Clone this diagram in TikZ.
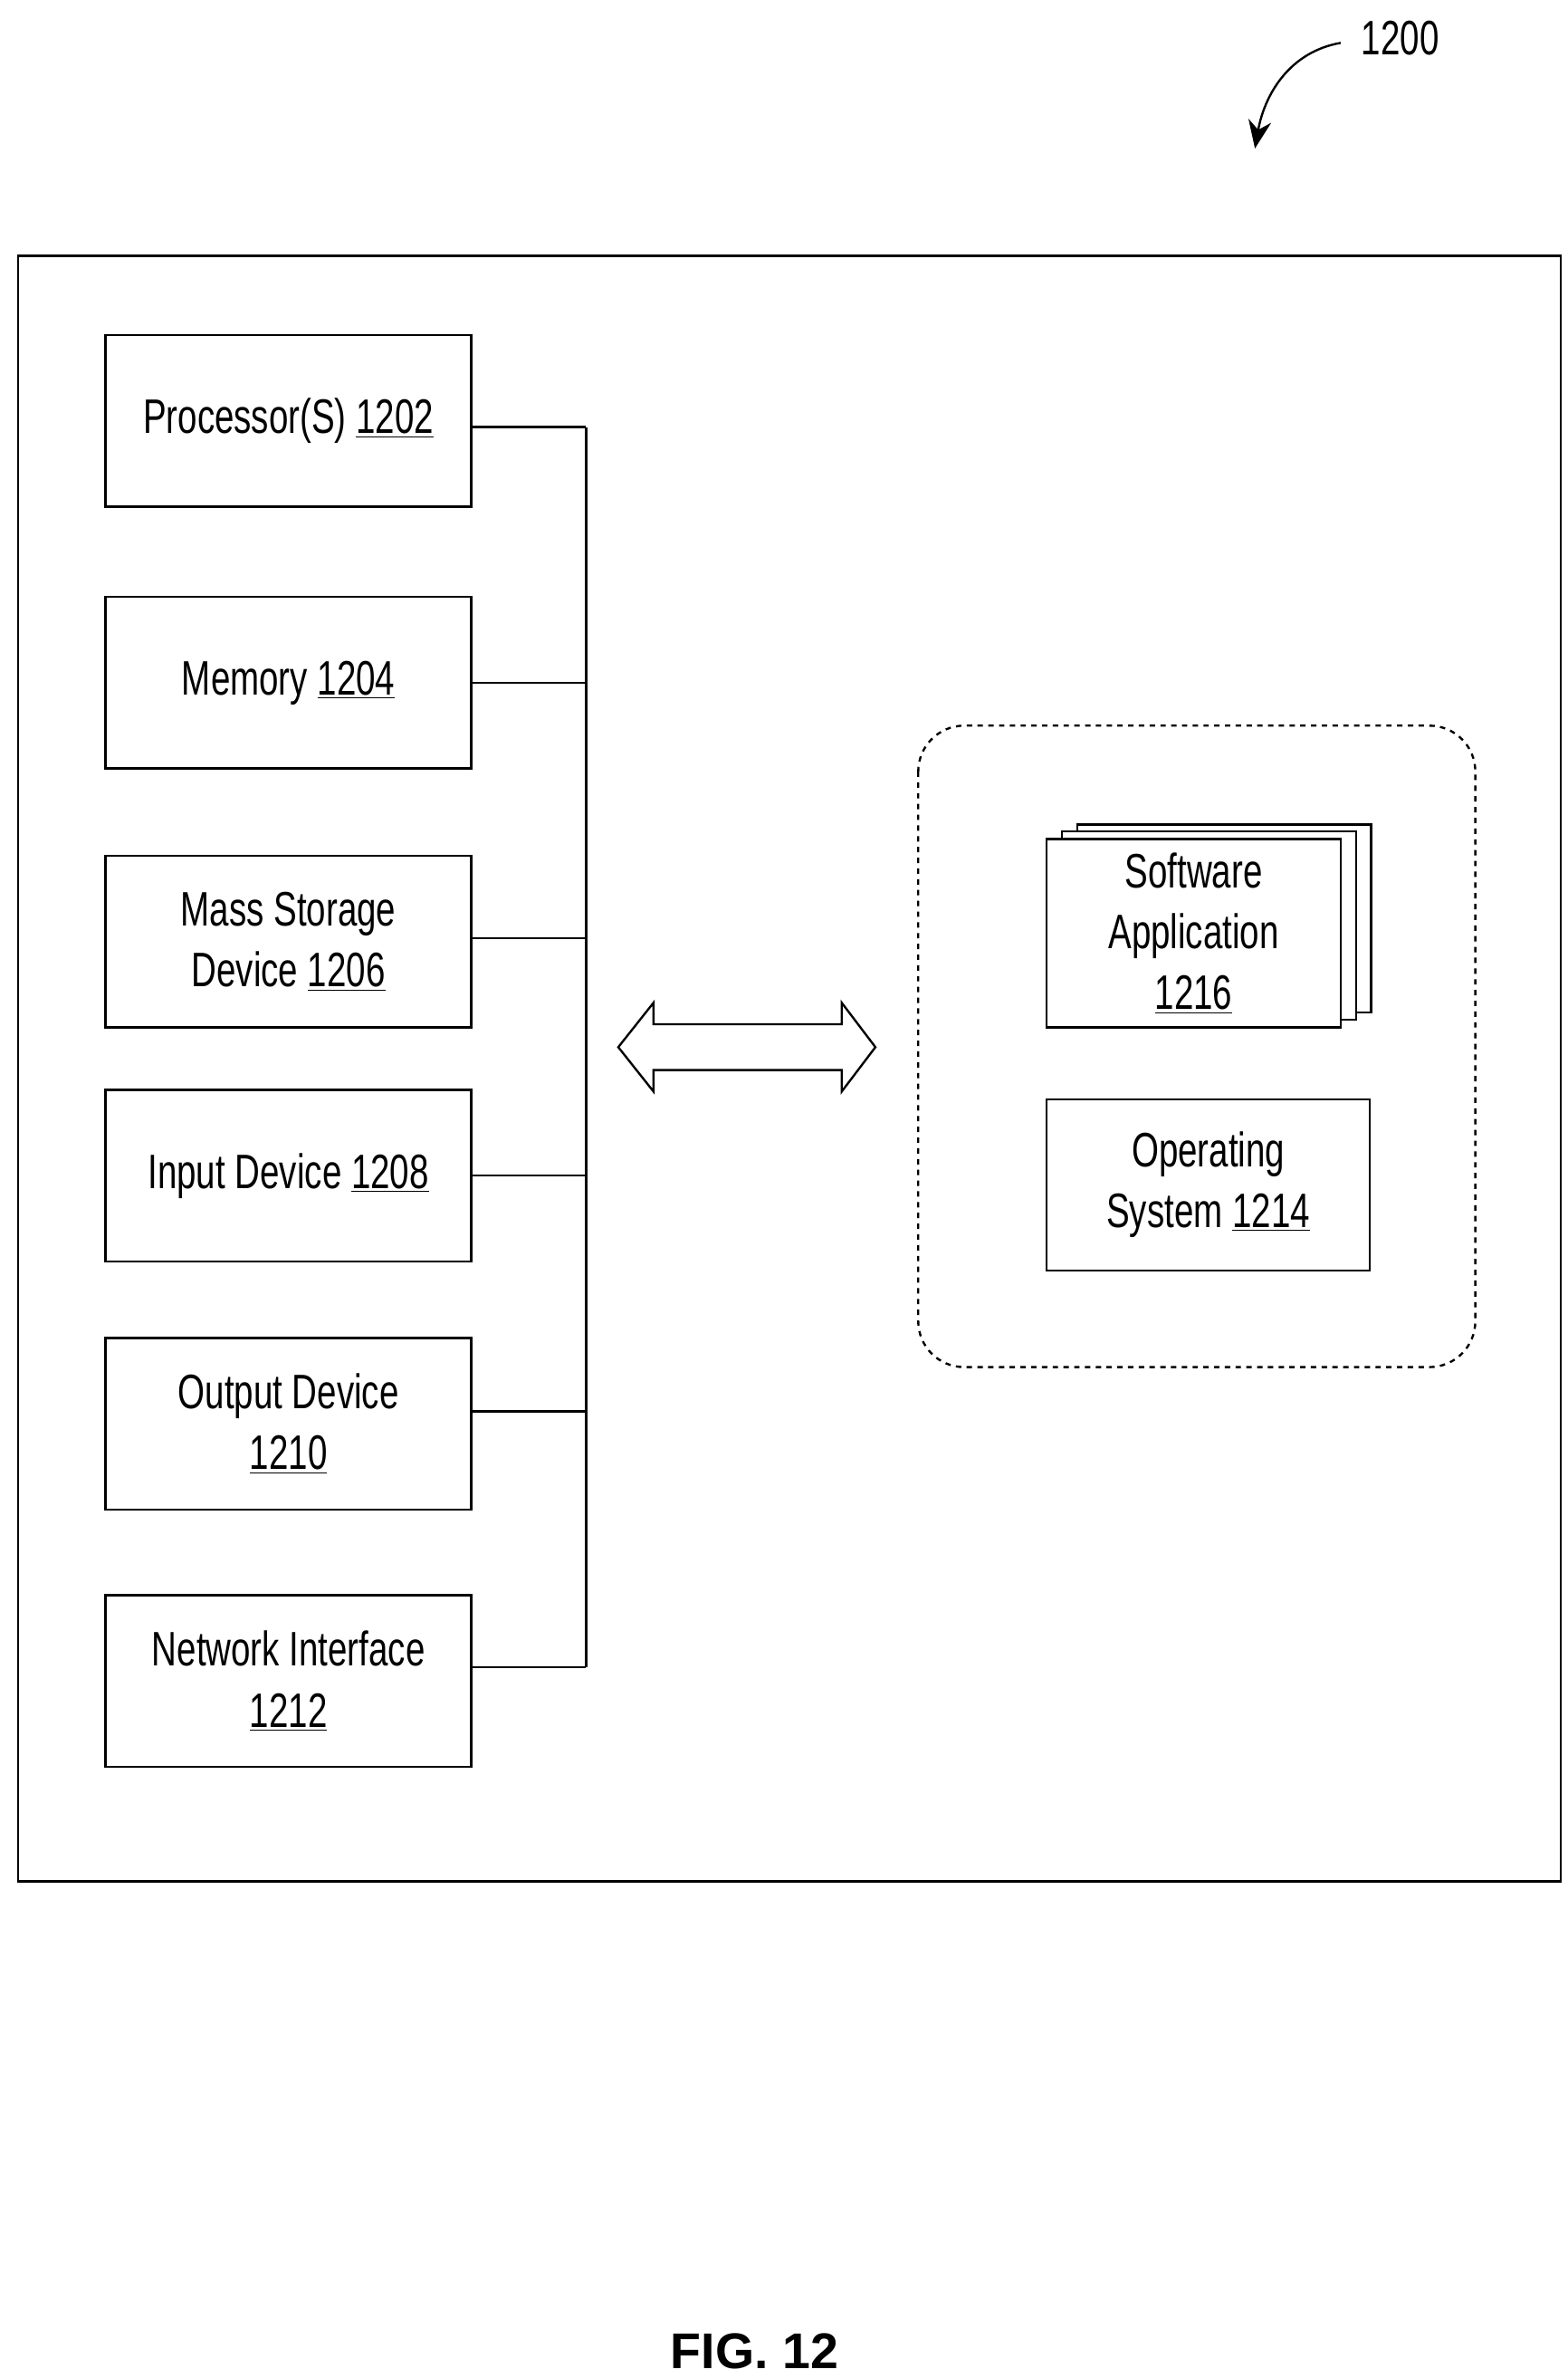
\documentclass[tikz,border=0pt]{standalone}
\usepackage{fontspec}
\setmainfont{Liberation Sans}[FakeStretch=0.72]
\newfontfamily\figfont{Liberation Sans}
\usetikzlibrary{arrows.meta}
\begin{document}
\begin{tikzpicture}[x=0.03cm,y=-0.03cm,line width=1.2pt,
    unit/.style={rectangle,draw,minimum width=7.17cm,minimum height=3.36cm,
                 align=center,font=\fontsize{27}{34}\selectfont,fill=white},
    app/.style={rectangle,draw,fill=white,minimum width=5.76cm,minimum height=3.69cm}]
  \useasboundingbox (0,0) rectangle (1024,1554);
  % outer frame
  \draw (12,167) rectangle (1020,1229);
  % left column
  \node[unit] (P) at (188.5,275) {Processor(S) \underline{1202}};
  \node[unit] (M) at (188.5,446) {Memory \underline{1204}};
  \node[unit] (S) at (188.5,615) {Mass Storage\\Device \underline{1206}};
  \node[unit] (I) at (188.5,768) {Input Device \underline{1208}};
  \node[unit] (O) at (188.5,930) {Output Device\\\underline{1210}};
  \node[unit] (N) at (188.5,1098) {Network Interface\\\underline{1212}};
  \coordinate (bt) at (383,279);
  \coordinate (bb) at (383,1089);
  \draw (bt) -- (bb);
  \foreach \n/\y in {P/279,M/446,S/613,I/768,O/922,N/1089}
    \draw (\n.east |- 0,\y) -- (383,\y);
  % double arrow
  \draw (404,684) -- (427,655) -- (427,669) -- (550,669) -- (550,655) -- (572,684)
        -- (550,713) -- (550,699) -- (427,699) -- (427,713) -- cycle;
  % memory contents
  \draw[dashed,rounded corners=0.9cm] (600,474) rectangle (964,893);
  \node[app] (A2) at (800,600) {};
  \node[app] (A1) at (790,604.5) {};
  \node[app,align=center,font=\fontsize{27}{34}\selectfont] (A) at (780,609.5)
       {Software\\Application\\\underline{1216}};
  \node[unit,minimum width=6.33cm] (OS) at (789.5,774) {Operating\\System \underline{1214}};
  % reference label
  \node[font=\fontsize{27}{34}\selectfont] (ref) at (915,25) {1200};
  \coordinate (refend) at (820,97);
  \draw[-{Stealth[length=0.55cm,width=0.45cm]}] (876,28) to[out=190,in=80] (refend);
  \node[font=\figfont\bfseries\fontsize{28}{34}\selectfont] (fig) at (493,1536) {FIG. 12};
\end{tikzpicture}
\end{document}
